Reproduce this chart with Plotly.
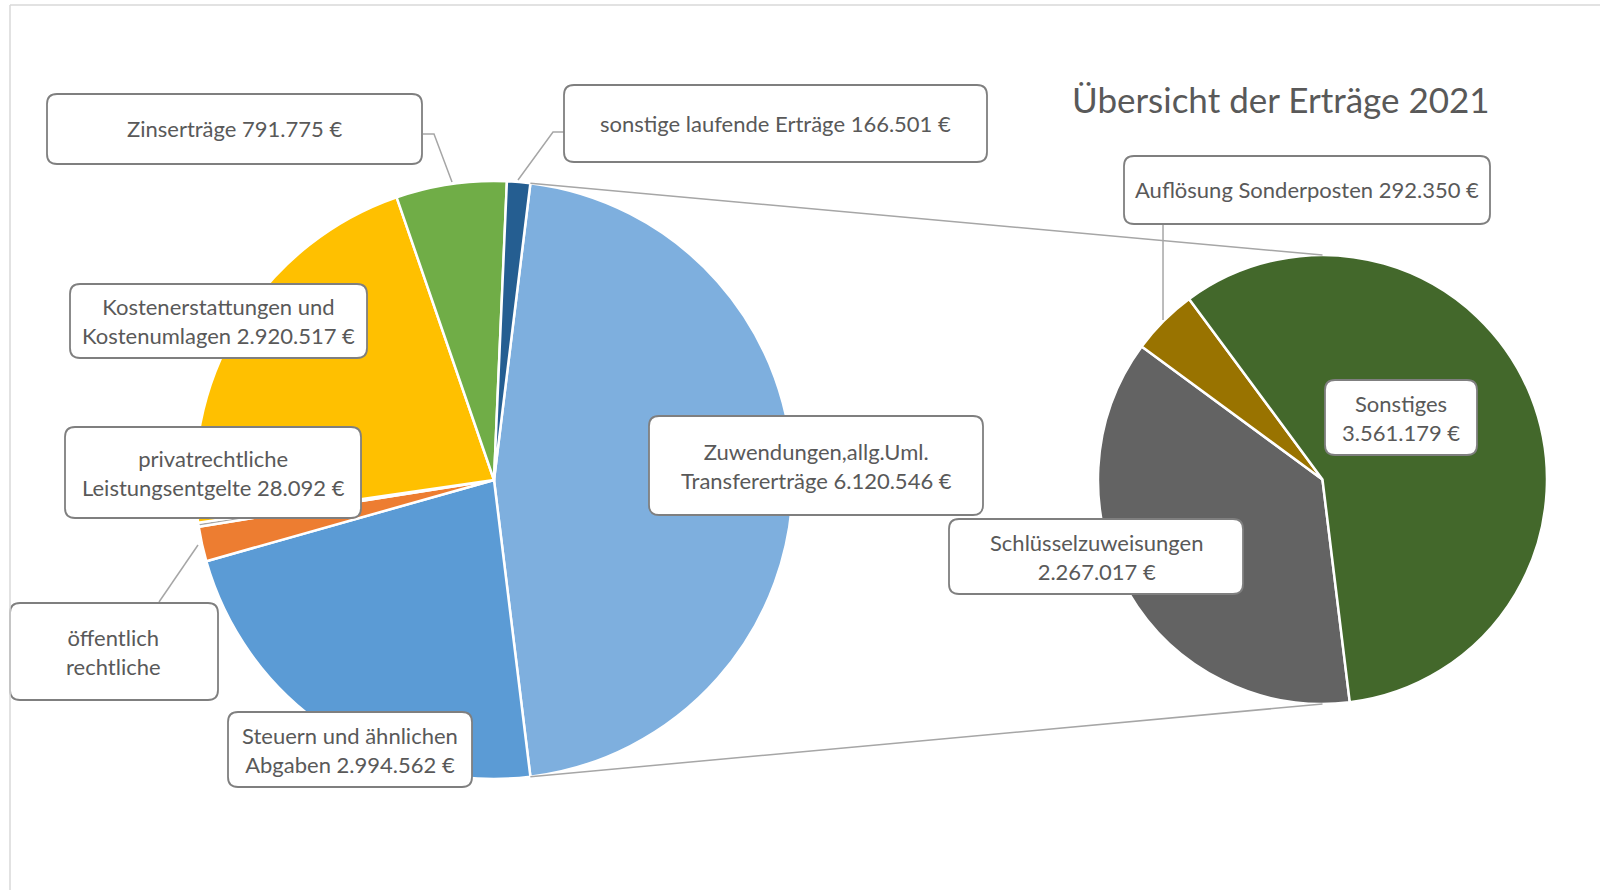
import math

import plotly.graph_objects as go

# Hauptkreis (im Uhrzeigersinn ab dem Sammelsegment)
main_labels = [
    'Zuwendungen,allg.Uml. Transfererträge',
    'Steuern und ähnlichen Abgaben',
    'öffentlich rechtliche',
    'privatrechtliche Leistungsentgelte',
    'Kostenerstattungen und Kostenumlagen',
    'Zinserträge',
    'sonstige laufende Erträge',
]
main_own_values = [2994562, 250000, 28092, 2920517, 791775, 166501]
main_colors = ['#7EAFDE', '#5B9BD5', '#ED7D31', '#A5A5A5', '#FFC000', '#70AD47', '#255E91']

# Zweitkreis (Aufteilung des Sammelsegments)
sub_labels = ['Schlüsselzuweisungen', 'Auflösung Sonderposten', 'Sonstiges']
sub_values = [2267017, 292350, 3561179]
sub_colors = ['#636363', '#997300', '#43682B']

title_text = 'Übersicht der Erträge 2021'

W, H = 1600, 890
TEXT = '#595959'
BORDER = '#7F7F7F'
FONT = 'Lato'


def fmt(v):
    return f'{v:,}'.replace(',', '.') + ' €'


def px(x):
    return x / W


def py(y):
    return 1 - y / H


main_values = [sum(sub_values)] + main_own_values
share_other = main_values[0] / sum(main_values)
rot_main = 90 - share_other * 360 / 2
rot_sub = rot_main + share_other * 360

main_dom = {'x': [0.1219, 0.4956], 'y': [0.1247, 0.7967]}
sub_dom = {'x': [0.6862, 0.9669], 'y': [0.2090, 0.7135]}

fig = go.Figure()
fig.add_trace(
    go.Pie(
        labels=main_labels,
        values=main_values,
        sort=False,
        direction='clockwise',
        rotation=rot_main,
        textinfo='none',
        marker={'colors': main_colors, 'line': {'color': 'white', 'width': 2.5}},
        domain=main_dom,
        hovertemplate='%{label}: %{value:,}<extra></extra>',
    )
)
fig.add_trace(
    go.Pie(
        labels=sub_labels,
        values=sub_values,
        sort=False,
        direction='clockwise',
        rotation=rot_sub,
        textinfo='none',
        marker={'colors': sub_colors, 'line': {'color': 'white', 'width': 2.5}},
        domain=sub_dom,
        hovertemplate='%{label}: %{value:,}<extra></extra>',
    )
)


def pie_geom(dom):
    w = (dom['x'][1] - dom['x'][0]) * W
    h = (dom['y'][1] - dom['y'][0]) * H
    cx = (dom['x'][0] + dom['x'][1]) / 2 * W
    cy = (1 - (dom['y'][0] + dom['y'][1]) / 2) * H
    return cx, cy, min(w, h) / 2


def on_circle(geom, deg):
    cx, cy, r = geom
    a = math.radians(deg)
    return cx + r * math.sin(a), cy - r * math.cos(a)


shapes = []
line_style = {'color': '#A6A6A6', 'width': 1.5}

# Verbindungslinien zwischen den Kreisen
g_main = pie_geom(main_dom)
g_sub = pie_geom(sub_dom)
for a_main, a_sub in [(rot_main, 0), (rot_main + share_other * 360, 180)]:
    x0, y0 = on_circle(g_main, a_main)
    x1, y1 = on_circle(g_sub, a_sub)
    shapes.append(
        {'type': 'line', 'xref': 'paper', 'yref': 'paper',
         'x0': px(x0), 'y0': py(y0), 'x1': px(x1), 'y1': py(y1), 'line': line_style}
    )

# Führungslinien der Beschriftungen
leaders = [
    [(423, 134), (434, 134), (452, 182)],
    [(564, 132), (553, 132), (518, 180)],
    [(159, 602), (198, 545)],
    [(1163, 225), (1163, 320)],
]
for pts in leaders:
    path = 'M ' + ' L '.join(f'{px(x):.5f},{py(y):.5f}' for x, y in pts)
    shapes.append({'type': 'path', 'xref': 'paper', 'yref': 'paper', 'path': path, 'line': line_style})


def rounded_box(x0, y0, x1, y1, r=10):
    p = [
        f'M {px(x0 + r)},{py(y0)}',
        f'L {px(x1 - r)},{py(y0)}',
        f'Q {px(x1)},{py(y0)} {px(x1)},{py(y0 + r)}',
        f'L {px(x1)},{py(y1 - r)}',
        f'Q {px(x1)},{py(y1)} {px(x1 - r)},{py(y1)}',
        f'L {px(x0 + r)},{py(y1)}',
        f'Q {px(x0)},{py(y1)} {px(x0)},{py(y1 - r)}',
        f'L {px(x0)},{py(y0 + r)}',
        f'Q {px(x0)},{py(y0)} {px(x0 + r)},{py(y0)}',
        'Z',
    ]
    return {
        'type': 'path', 'xref': 'paper', 'yref': 'paper', 'path': ' '.join(p),
        'fillcolor': 'white', 'line': {'color': BORDER, 'width': 1.8}, 'layer': 'above',
    }


# Beschriftungen: Text, Box (x0, y0, x1, y1) in Pixeln
label_texts = [
    'Zinserträge ' + fmt(main_values[5]),
    'sonstige laufende Erträge ' + fmt(main_values[6]),
    'Kostenerstattungen und<br>Kostenumlagen ' + fmt(main_values[4]),
    'privatrechtliche<br>Leistungsentgelte ' + fmt(main_values[3]),
    'öffentlich<br>rechtliche',
    'Steuern und ähnlichen<br>Abgaben ' + fmt(main_values[1]),
    'Zuwendungen,allg.Uml.<br>Transfererträge ' + fmt(main_values[0]),
    'Auflösung Sonderposten ' + fmt(sub_values[1]),
    'Sonstiges<br>' + fmt(sub_values[2]),
    'Schlüsselzuweisungen<br>' + fmt(sub_values[0]),
]
label_boxes = [
    (47, 94, 422, 164),
    (564, 85, 987, 162),
    (70, 284, 367, 358),
    (65, 427, 361, 518),
    (10, 603, 218, 700),
    (228, 712, 472, 787),
    (649, 416, 983, 515),
    (1124, 156, 1490, 224),
    (1325, 380, 1477, 455),
    (949, 519, 1243, 594),
]

annotations = []
for text, (x0, y0, x1, y1) in zip(label_texts, label_boxes):
    shapes.append(rounded_box(x0, y0, x1, y1))
    annotations.append(
        {'text': text, 'xref': 'paper', 'yref': 'paper',
         'x': px((x0 + x1) / 2), 'y': py((y0 + y1) / 2),
         'xanchor': 'center', 'yanchor': 'middle', 'showarrow': False,
         'font': {'family': FONT, 'size': 22, 'color': TEXT}}
    )

annotations.append(
    {'text': title_text, 'xref': 'paper', 'yref': 'paper',
     'x': px(1281), 'y': py(99), 'xanchor': 'center', 'yanchor': 'middle', 'showarrow': False,
     'font': {'family': FONT, 'size': 35, 'color': TEXT}}
)

# Rahmen des Diagrammbereichs
shapes.append({'type': 'line', 'xref': 'paper', 'yref': 'paper', 'x0': px(10), 'y0': py(5),
               'x1': 1, 'y1': py(5), 'line': {'color': '#D9D9D9', 'width': 1.5}})
shapes.append({'type': 'line', 'xref': 'paper', 'yref': 'paper', 'x0': px(10), 'y0': py(5),
               'x1': px(10), 'y1': 0, 'line': {'color': '#D9D9D9', 'width': 1.5}})

fig.update_layout(
    width=W,
    height=H,
    margin={'l': 0, 'r': 0, 't': 0, 'b': 0},
    paper_bgcolor='white',
    plot_bgcolor='white',
    showlegend=False,
    shapes=shapes,
    annotations=annotations,
    font={'family': FONT, 'color': TEXT},
)

# Seitenrand entfernen, damit die Grafik bündig im Fenster sitzt
fig.write_html(
    'out.html',
    config={'displayModeBar': False},
    post_script="document.body.style.margin = '0';",
)
